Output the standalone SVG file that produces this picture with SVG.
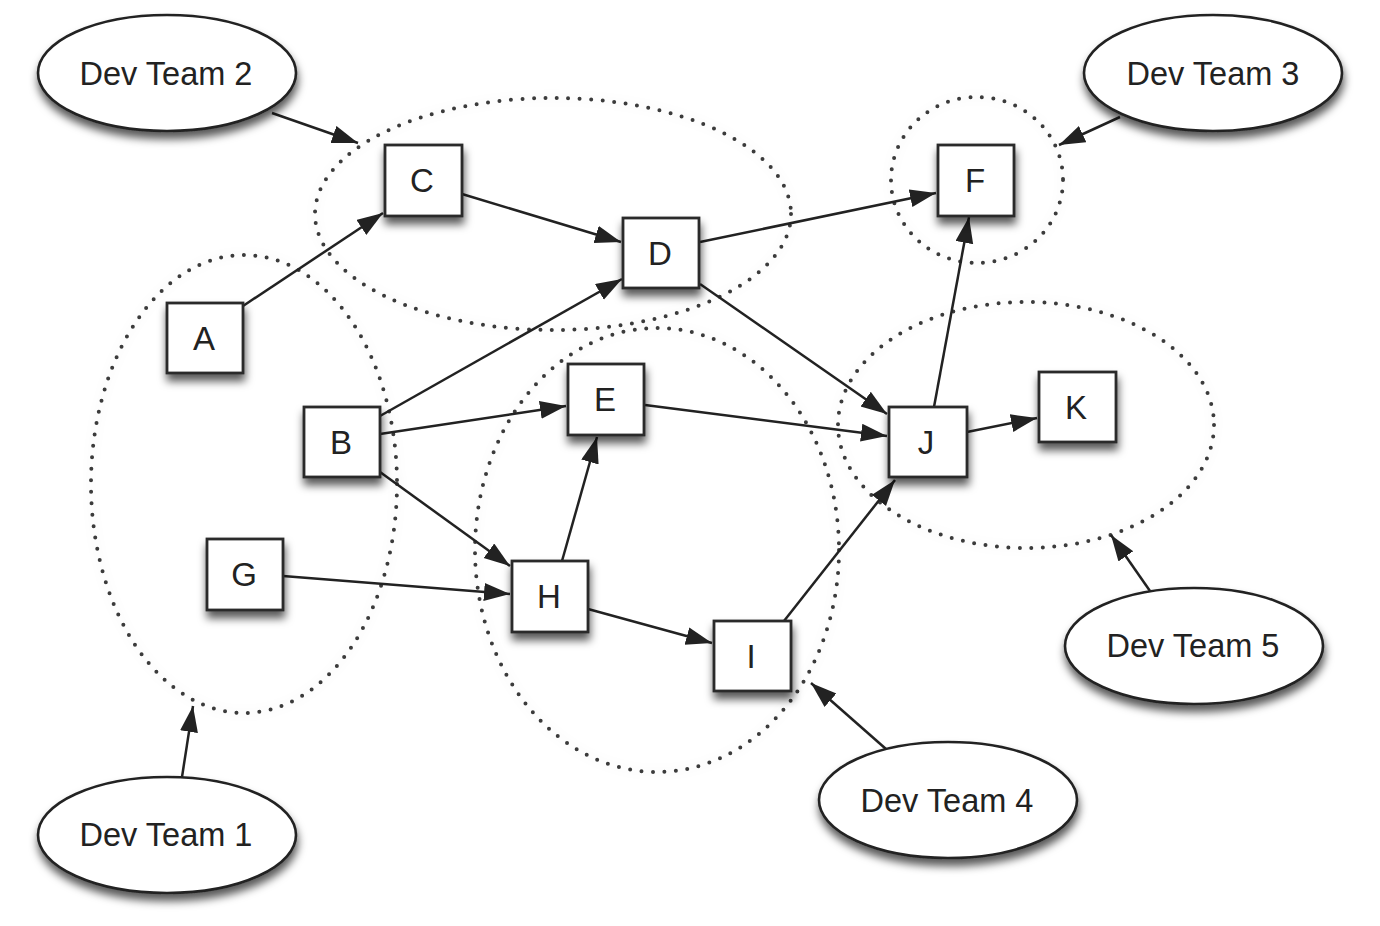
<svg xmlns="http://www.w3.org/2000/svg" width="1380" height="926" viewBox="0 0 1380 926">
<defs>
<filter id="sh" x="-30%" y="-30%" width="160%" height="170%">
<feDropShadow dx="1" dy="7" stdDeviation="4" flood-color="#000" flood-opacity="0.65"/>
</filter>
<filter id="halo" x="-20%" y="-20%" width="140%" height="140%">
<feGaussianBlur in="SourceAlpha" stdDeviation="6" result="b"/>
<feComponentTransfer in="b" result="c"><feFuncA type="linear" slope="0.15"/></feComponentTransfer>
<feMerge><feMergeNode in="c"/><feMergeNode in="SourceGraphic"/></feMerge>
</filter>
<marker id="arr" markerUnits="userSpaceOnUse" markerWidth="28" markerHeight="20" refX="26" refY="9" orient="auto">
<path d="M0,0 L26,9 L0,18 z" fill="#222"/>
</marker>
</defs>
<style>
.box{fill:#fff;stroke:#2a2a2a;stroke-width:2.8;filter:url(#sh)}
.team{fill:#fff;stroke:#222;stroke-width:2.6;filter:url(#sh)}
.grp{fill:none;stroke:#3a3a3a;stroke-width:4;stroke-dasharray:0 11.5;stroke-linecap:round;filter:url(#halo)}
.lbl{font-family:"Liberation Sans",Arial,sans-serif;font-size:33px;fill:#222;text-anchor:middle}
.tl{font-family:"Liberation Sans",Arial,sans-serif;font-size:32.5px;fill:#222;text-anchor:middle}
.e{fill:none;stroke:#222;stroke-width:2.5;marker-end:url(#arr)}
</style>
<rect width="1380" height="926" fill="#fff"/>

<g id="groups">
<ellipse id="grp1" class="grp" cx="244" cy="484" rx="153" ry="229"/>
<ellipse id="grp2" class="grp" cx="553" cy="214" rx="238" ry="116"/>
<ellipse id="grp3" class="grp" cx="977" cy="180" rx="86" ry="83"/>
<ellipse id="grp4" class="grp" cx="657" cy="550" rx="182" ry="222"/>
<ellipse id="grp5" class="grp" cx="1026" cy="425" rx="188" ry="123"/>
</g>

<g id="connectors">
<line class="e" x1="243" y1="306" x2="383" y2="213"/>
<line class="e" x1="462" y1="194" x2="621" y2="242"/>
<line class="e" x1="700" y1="242" x2="936" y2="193"/>
<line class="e" x1="380" y1="416" x2="622" y2="279"/>
<line class="e" x1="380" y1="434" x2="566" y2="406"/>
<line class="e" x1="380" y1="472" x2="510" y2="566"/>
<line class="e" x1="700" y1="284" x2="887" y2="414"/>
<line class="e" x1="645" y1="405" x2="887" y2="436"/>
<line class="e" x1="283" y1="576" x2="510" y2="594"/>
<line class="e" x1="562" y1="561" x2="597" y2="437"/>
<line class="e" x1="588" y1="609" x2="712" y2="643"/>
<line class="e" x1="784" y1="621" x2="895" y2="480"/>
<line class="e" x1="934" y1="407" x2="969" y2="217"/>
<line class="e" x1="967" y1="432" x2="1037" y2="418"/>
<line class="e" x1="272" y1="113" x2="358" y2="143"/>
<line class="e" x1="1120" y1="117" x2="1059" y2="145"/>
<line class="e" x1="182" y1="777" x2="193" y2="706"/>
<line class="e" x1="886" y1="749" x2="811" y2="683"/>
<line class="e" x1="1150" y1="591" x2="1111" y2="535"/>
</g>

<g id="nA"><rect class="box" x="167" y="303" width="76" height="70"/><text class="lbl" x="204" y="350">A</text></g>
<g id="nB"><rect class="box" x="304" y="407" width="76" height="70"/><text class="lbl" x="341" y="454">B</text></g>
<g id="nC"><rect class="box" x="385" y="145" width="77" height="71"/><text class="lbl" x="422" y="192">C</text></g>
<g id="nD"><rect class="box" x="623" y="218" width="76" height="70"/><text class="lbl" x="660" y="265">D</text></g>
<g id="nE"><rect class="box" x="568" y="364" width="76" height="71"/><text class="lbl" x="605" y="411">E</text></g>
<g id="nF"><rect class="box" x="938" y="145" width="76" height="71"/><text class="lbl" x="975" y="192">F</text></g>
<g id="nG"><rect class="box" x="207" y="539" width="76" height="71"/><text class="lbl" x="244" y="586">G</text></g>
<g id="nH"><rect class="box" x="512" y="561" width="76" height="71"/><text class="lbl" x="549" y="608">H</text></g>
<g id="nI"><rect class="box" x="714" y="621" width="77" height="70"/><text class="lbl" x="751" y="668">I</text></g>
<g id="nJ"><rect class="box" x="889" y="407" width="78" height="70"/><text class="lbl" x="926" y="454">J</text></g>
<g id="nK"><rect class="box" x="1039" y="372" width="77" height="70"/><text class="lbl" x="1076" y="419">K</text></g>

<g id="t1"><ellipse class="team" cx="167" cy="835" rx="129" ry="58"/><text class="tl" x="166" y="846">Dev Team 1</text></g>
<g id="t2"><ellipse class="team" cx="167" cy="73" rx="129" ry="58"/><text class="tl" x="166" y="85">Dev Team 2</text></g>
<g id="t3"><ellipse class="team" cx="1213" cy="73" rx="129" ry="58"/><text class="tl" x="1213" y="85">Dev Team 3</text></g>
<g id="t4"><ellipse class="team" cx="948" cy="800" rx="129" ry="58"/><text class="tl" x="947" y="812">Dev Team 4</text></g>
<g id="t5"><ellipse class="team" cx="1194" cy="646" rx="129" ry="58"/><text class="tl" x="1193" y="657">Dev Team 5</text></g>
</svg>
